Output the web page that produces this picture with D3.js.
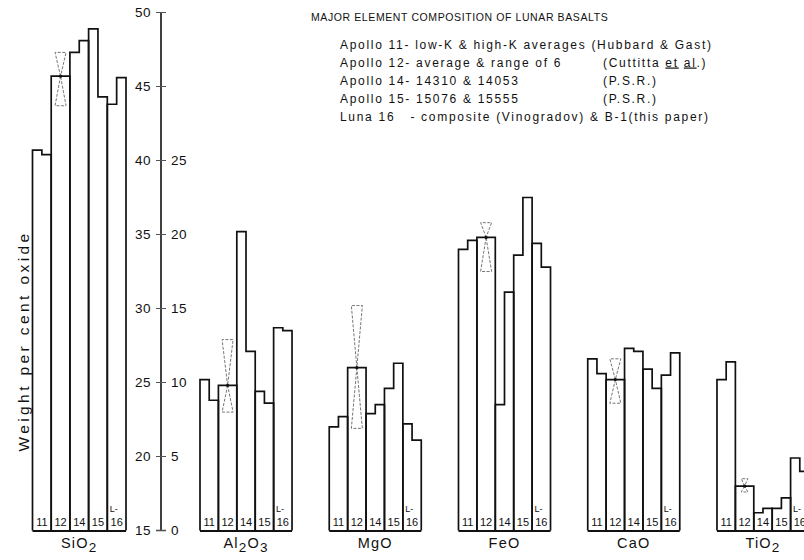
<!DOCTYPE html>
<html>
<head>
<meta charset="utf-8">
<script src="https://cdn.jsdelivr.net/npm/d3@7"></script>
<style>
  html, body { margin: 0; padding: 0; background: #fff; }
  svg { display: block; }
  text { font-family: "Liberation Sans", "DejaVu Sans", sans-serif; fill: #111; }
</style>
</head>
<body>
<svg id="chart" width="804" height="560"></svg>
<script>
// Oxides plotted, left to right (SiO2 on the 15-50 scale, the rest on 0-35)
const oxides = ["SiO2", "Al2O3", "MgO", "FeO", "CaO", "TiO2"];
const oxideLabels = [["Si", "O", "2"], ["Al", "2", "O", "3"], ["Mg", "O"], ["Fe", "O"], ["Ca", "O"], ["Ti", "O", "2"]];
const missions = ["11", "12", "14", "15", "16"];

// Weight per cent oxide, one entry per oxide in the order above
const apollo11LowK  = [40.7, 10.2, 7.0, 19.0, 11.6, 10.2];
const apollo11HighK = [40.4,  8.8, 7.7, 19.6, 10.6, 11.4];
const apollo12Avg   = [45.7,  9.8, 11.0, 19.8, 10.2, 3.0];
const apollo12Min   = [43.7,  8.0, 6.9, 17.5,  8.6, 2.6];
const apollo12Max   = [47.3, 12.9, 15.2, 20.8, 11.6, 3.5];
const apollo14310   = [47.3, 20.2, 7.9,  8.5, 12.3, 1.2];
const apollo14053   = [48.1, 12.1, 8.5, 16.1, 12.1, 1.5];
const apollo15076   = [48.9,  9.4, 9.6, 18.6, 10.9, 1.5];
const apollo15555   = [44.3,  8.6, 11.3, 22.5, 9.6, 2.2];
const luna16Comp    = [43.8, 13.7, 7.2, 19.4, 10.5, 4.9];
const luna16B1      = [45.6, 13.5, 6.1, 17.8, 12.0, 4.0];

const leftTicks  = [15, 20, 25, 30, 35, 40, 45, 50];
const rightTicks = [0, 5, 10, 15, 20, 25];

const titleText = "MAJOR ELEMENT COMPOSITION OF LUNAR BASALTS";
const legendMain = [
  "Apollo 11- low-K & high-K averages (Hubbard & Gast)",
  "Apollo 12- average & range of 6",
  "Apollo 14- 14310 & 14053",
  "Apollo 15- 15076 & 15555",
  "Luna 16   - composite (Vinogradov) & B-1(this paper)"
];
const legendSource = [null, "cuttitta", "(P.S.R.)", "(P.S.R.)", null];

const svg = d3.select("#chart");

// Vertical scales: SiO2 reads on the left numbers, the other oxides on the right numbers
const yLeft  = d3.scaleLinear().domain([15, 50]).range([530.5, 12.5]);
const yRight = d3.scaleLinear().domain([0, 35]).range([530.5, 12.5]);
const axisX = 161;

// Horizontal layout: SiO2 group left of the axis, other five groups to the right
const xSi = d3.scaleBand().domain(["SiO2"]).range([32.5, 126]).padding(0);
const xOther = d3.scaleBand().domain(oxides.slice(1)).range([200, 809])
  .paddingInner(0.288).paddingOuter(0);
const groupX = o => o === "SiO2" ? xSi(o) : xOther(o);
const groupW = o => o === "SiO2" ? xSi.bandwidth() : xOther.bandwidth();

// Axis line with ticks crossing it
const axisG = svg.append("g");
axisG.append("line")
  .attr("x1", axisX).attr("x2", axisX)
  .attr("y1", yLeft(50)).attr("y2", yLeft(15))
  .attr("stroke", "#111").attr("stroke-width", 1.6);
axisG.selectAll("line.tick").data(leftTicks).join("line")
  .attr("class", "tick")
  .attr("x1", axisX - 5).attr("x2", axisX + 5)
  .attr("y1", d => yLeft(d)).attr("y2", d => yLeft(d))
  .attr("stroke", "#555").attr("stroke-width", d => d === 15 ? 1.6 : 1);
axisG.selectAll("text.lt").data(leftTicks).join("text")
  .attr("class", "lt")
  .attr("x", axisX - 10).attr("y", d => yLeft(d) + 4.5)
  .attr("text-anchor", "end")
  .attr("font-size", 13.5).attr("fill", "#333")
  .attr("letter-spacing", 0.5)
  .text(d => d);
axisG.selectAll("text.rt").data(rightTicks).join("text")
  .attr("class", "rt")
  .attr("x", axisX + 10).attr("y", d => yRight(d) + 4.5)
  .attr("font-size", 13.5).attr("fill", "#333")
  .attr("letter-spacing", 0.5)
  .text(d => d);

// Axis title
svg.append("text")
  .attr("transform", `translate(29, ${341}) rotate(-90)`)
  .attr("text-anchor", "middle")
  .attr("font-size", 15.5)
  .attr("letter-spacing", 3.4)
  .attr("fill", "#222")
  .text("Weight per cent oxide");

// Column scale inside a group, and half-column split for paired samples
const bars = svg.append("g");
oxides.forEach((ox, i) => {
  const y = i === 0 ? yLeft : yRight;
  const base = i === 0 ? yLeft(15) : yRight(0);
  const gx = groupX(ox), gw = groupW(ox);
  const xCol = d3.scaleBand().domain(missions).range([gx, gx + gw]).padding(0);
  const cw = xCol.bandwidth();
  const half = d3.scaleBand().domain([0, 1]).range([0, cw]).padding(0);

  const pairs = {
    "11": [apollo11LowK[i], apollo11HighK[i]],
    "14": [apollo14310[i], apollo14053[i]],
    "15": [apollo15076[i], apollo15555[i]],
    "16": [luna16Comp[i], luna16B1[i]]
  };

  missions.forEach(m => {
    const x0 = xCol(m), x1 = x0 + cw;
    const p = d3.path();
    p.moveTo(x0, base);
    if (m === "12") {
      p.lineTo(x0, y(apollo12Avg[i]));
      p.lineTo(x1, y(apollo12Avg[i]));
    } else {
      const [a, b] = pairs[m];
      const xm = x0 + half(1);
      p.lineTo(x0, y(a));
      p.lineTo(xm, y(a));
      p.lineTo(xm, y(b));
      p.lineTo(x1, y(b));
    }
    p.lineTo(x1, base);
    bars.append("path")
      .attr("d", p.toString())
      .attr("fill", "none")
      .attr("stroke", "#111")
      .attr("stroke-width", 1.7)
      .attr("stroke-linejoin", "miter");

    bars.append("text")
      .attr("x", x0 + cw / 2).attr("y", base - 5)
      .attr("text-anchor", "middle")
      .attr("font-size", 11)
      .attr("fill", "#222")
      .text(m);
    if (m === "16") {
      bars.append("text")
        .attr("x", x0 + 2.5).attr("y", base - 19)
        .attr("font-size", 9)
        .attr("fill", "#444")
        .text("L-");
    }
  });

  // Apollo 12 range: dashed hourglass pinched at the average
  const cx = xCol("12") + cw / 2;
  const yAvg = y(apollo12Avg[i]), yMax = y(apollo12Max[i]), yMin = y(apollo12Min[i]);
  const hw = Math.min(5.5, (yMin - yMax) / 4);
  const hg = d3.path();
  hg.moveTo(cx, yAvg); hg.lineTo(cx - hw, yMax); hg.lineTo(cx + hw, yMax); hg.closePath();
  hg.moveTo(cx, yAvg); hg.lineTo(cx - hw, yMin); hg.lineTo(cx + hw, yMin); hg.closePath();
  bars.append("path")
    .attr("d", hg.toString())
    .attr("fill", "none")
    .attr("stroke", "#777")
    .attr("stroke-width", 1)
    .attr("stroke-dasharray", "3,1.5");
  bars.append("circle")
    .attr("cx", cx).attr("cy", yAvg).attr("r", 1.6).attr("fill", "#111");

  // Common baseline of the group
  bars.append("line")
    .attr("x1", gx).attr("x2", gx + gw)
    .attr("y1", base + 0.5).attr("y2", base + 0.5)
    .attr("stroke", "#111").attr("stroke-width", 2.2);

  // Oxide name with subscripts
  const lab = bars.append("text")
    .attr("x", gx + gw / 2).attr("y", 548)
    .attr("text-anchor", "middle")
    .attr("font-size", 14.5)
    .attr("letter-spacing", 1.2)
    .attr("fill", "#111");
  let sub = false;
  oxideLabels[i].forEach(part => {
    const isNum = /^[0-9]$/.test(part);
    const t = lab.append("tspan").text(part);
    if (isNum && !sub) { t.attr("dy", 4).attr("font-size", 13.5); sub = true; }
    else if (!isNum && sub) { t.attr("dy", -4); sub = false; }
  });
});

// Title and legend
svg.append("text")
  .attr("x", 311).attr("y", 21)
  .attr("font-size", 10.5)
  .attr("letter-spacing", 0.6)
  .attr("fill", "#222")
  .text(titleText);

const legendRows = [44, 62, 80, 98, 116];
legendMain.forEach((s, k) => {
  svg.append("text")
    .attr("x", 340).attr("y", legendRows[k] + 4.5)
    .attr("font-size", 12)
    .attr("letter-spacing", 1.7)
    .attr("fill", "#222")
    .style("white-space", "pre")
    .text(s);
  const src = legendSource[k];
  if (src) {
    const t = svg.append("text")
      .attr("x", 603).attr("y", legendRows[k] + 4.5)
      .attr("font-size", 12)
      .attr("letter-spacing", 1.7)
      .attr("fill", "#222");
    if (src === "cuttitta") {
      t.append("tspan").text("(Cuttitta ");
      t.append("tspan").attr("text-decoration", "underline").text("et");
      t.append("tspan").text(" ");
      t.append("tspan").attr("text-decoration", "underline").text("al");
      t.append("tspan").text(".)");
    } else {
      t.text(src);
    }
  }
});
</script>
</body>
</html>
